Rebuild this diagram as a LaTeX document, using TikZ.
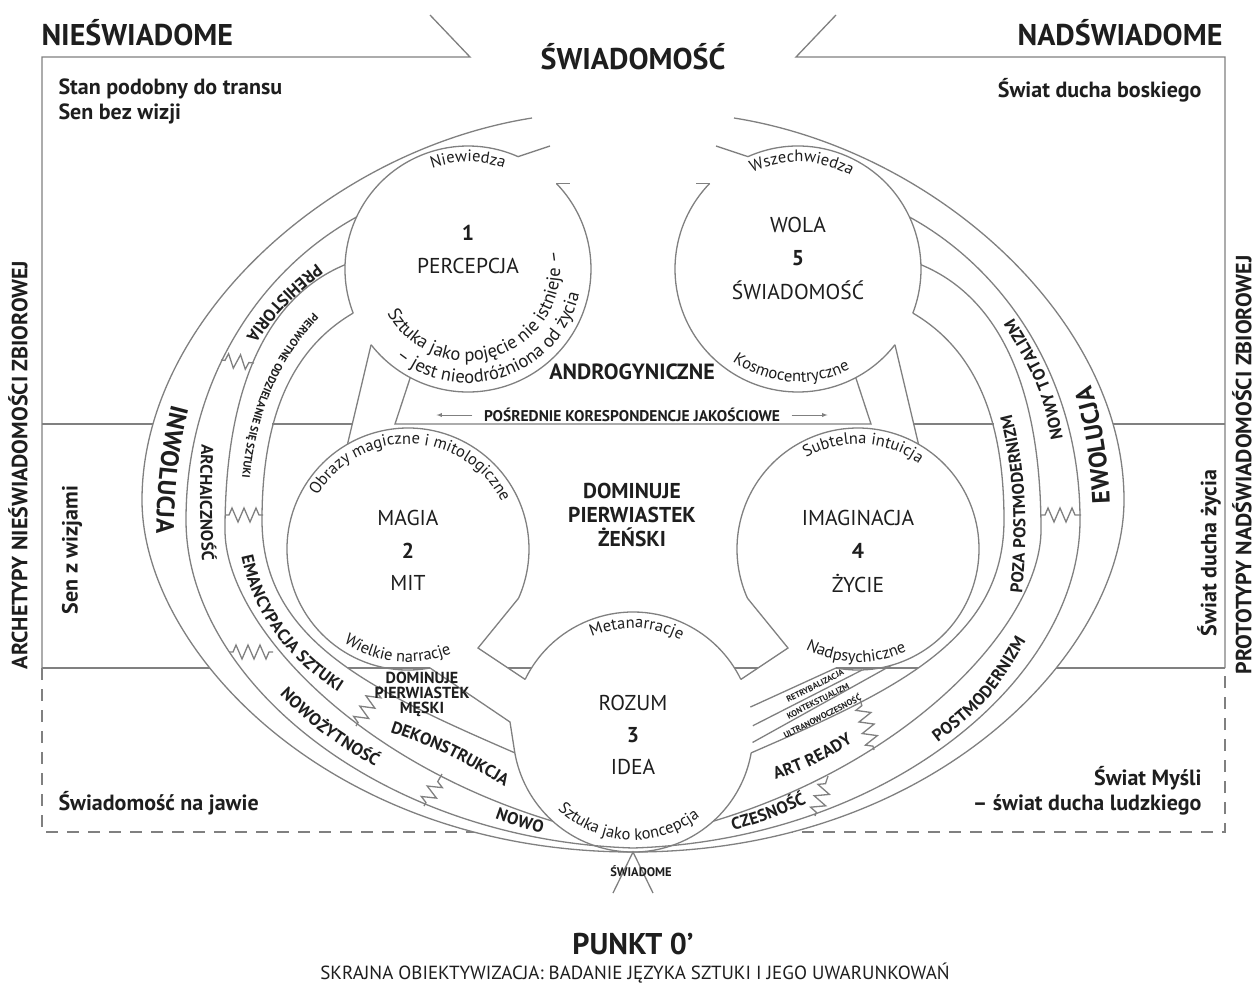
\documentclass[tikz,border=0pt]{standalone}
\usepackage{fontspec}
\setmainfont{PT Sans}
\usetikzlibrary{arrows,calc,decorations.text,decorations.pathmorphing}
\definecolor{linegray}{RGB}{128,128,128}
\definecolor{ink}{RGB}{30,30,30}

\begin{document}
\begin{tikzpicture}[x=1pt,y=-1pt,>=latex,color=ink,
    ln/.style={draw=linegray,line width=1.3pt},
    zz/.style={ln,decorate,decoration={zigzag,segment length=12pt,amplitude=7pt,pre length=4pt,post length=4pt}},
    headlab/.style={font=\bfseries\fontsize{30}{30}\selectfont},
    sidelab/.style={font=\bfseries\fontsize{22}{25}\selectfont},
    circlab/.style={font=\fontsize{21.5}{21.5}\selectfont},
    numlab/.style={font=\bfseries\fontsize{21.5}{21.5}\selectfont},
    tinylab/.style={font=\bfseries\fontsize{8.5}{8.5}\selectfont,rotate=27},
    bandtext/.style={decorate,decoration={text along path,text align=center,raise=-6pt,text color=ink,
      text={|\bfseries\fontsize{17}{17}\selectfont|#1}}},
    bandsmall/.style={decorate,decoration={text along path,text align=center,raise=-3.8pt,text color=ink,
      text={|\bfseries\fontsize{11}{11}\selectfont|#1}}},
    bandbig/.style={decorate,decoration={text along path,text align=center,raise=-8.8pt,text color=ink,
      text={|\bfseries\fontsize{25}{25}\selectfont|#1}}},
    circtext/.style={decorate,decoration={text along path,text align=center,text color=ink,
      text={|\fontsize{16.5}{16.5}\selectfont|#1}}},
    circwide/.style={decorate,decoration={text along path,text align=center,text color=ink,
      text={|\fontsize{18.5}{18.5}\selectfont|#1}}}]
  \useasboundingbox (0,0) rectangle (1255,986);
  \fill[white] (0,0) rectangle (1255,986);

  % frame and level lines
  \draw[ln] (430,15) -- (470,57) -- (42,57) -- (42,668);
  \draw[ln] (836,15) -- (796,57) -- (1225,57) -- (1225,668);
  \draw[ln,dash pattern=on 12pt off 9pt] (42,668) -- (42,832) -- (1225,832) -- (1225,668);
  \draw[ln] (42,424) -- (1225,424);
  \draw[ln] (42,668) -- (1225,668);

  % the egg hides the level lines
  \fill[white] (532,118) .. controls (330,150) and (142,320) .. (142,500)
    .. controls (142,650) and (330,852) .. (633,852)
    .. controls (936,852) and (1124,650) .. (1124,500)
    .. controls (1124,320) and (936,150) .. (734,118) -- cycle;

  \coordinate (c1) at (468,269);
  \coordinate (c5) at (798,269);
  \coordinate (c2) at (408,549);
  \coordinate (c4) at (858,549);
  \coordinate (c3) at (633,732);

  % level lines seen in the gaps
  \draw[ln] (272,424) -- (353,424);
  \draw[ln] (913,424) -- (994,424);
  \draw[ln] (348,668) -- (430,668);
  \draw[ln] (836,668) -- (918,668);
  \draw[ln] (508,668) -- (531,668);
  \draw[ln] (735,668) -- (758,668);

  % bands
  \draw[ln] (532,118) .. controls (330,150) and (142,320) .. (142,500)
    .. controls (142,650) and (330,852) .. (633,852)
    .. controls (936,852) and (1124,650) .. (1124,500)
    .. controls (1124,320) and (936,150) .. (734,118);
  \draw[ln] (c1) ++(205:123) .. controls (260,270) and (186,380) .. (186,520)
    .. controls (186,680) and (380,840) .. (633,848)
    .. controls (886,840) and (1080,680) .. (1080,520)
    .. controls (1080,380) and (1006,270) .. ($(c5)+(-25:123)$);
  \draw[ln] (c1) ++(182:123) .. controls (260,300) and (225,400) .. (225,530)
    .. controls (225,620) and (350,760) .. ($(c3)+(132:120)$);
  \draw[ln] (c5) ++(-2:123) .. controls (1006,300) and (1041,400) .. (1041,530)
    .. controls (1041,620) and (916,760) .. ($(c3)+(48:120)$);
  \draw[ln] (c1) ++(159:123) .. controls (290,350) and (262,420) .. (262,520)
    .. controls (262,640) and (370,690) .. ($(c3)+(170:120)$);
  \draw[ln] (c5) ++(21:123) .. controls (976,350) and (1004,420) .. (1004,520)
    .. controls (1004,640) and (896,690) .. ($(c3)+(10:120)$);

  % circles
  \draw[ln] (c1) ++(-44:123) arc[start angle=-44,end angle=142,radius=123];
  \draw[ln] (c1) ++(159:123) arc[start angle=159,end angle=294,radius=123];
  \draw[ln] (c1) ++(294:123) -- (550,146);
  \draw[ln] (c1) ++(-44:123) -- ++(14,0);
  \draw[ln] (c5) ++(38:123) arc[start angle=38,end angle=224,radius=123];
  \draw[ln] (c5) ++(-114:123) arc[start angle=-114,end angle=21,radius=123];
  \draw[ln] (c5) ++(246:123) -- (716,146);
  \draw[ln] (c5) ++(224:123) -- ++(-14,0);
  \draw[ln] (c2) ++(79.5:121) arc[start angle=79.5,end angle=384,radius=121];
  \draw[ln] (c4) ++(-204:121) arc[start angle=-204,end angle=100.5,radius=121];
  \draw[ln] (c3) ++(206:120) arc[start angle=206,end angle=334,radius=120];
  \draw[ln] (c3) ++(10:120) arc[start angle=10,end angle=170,radius=120];

  % walls between the circles
  \draw[ln] ($(c1)+(118:123)$) -- (395,424) -- (871,424) -- ($(c5)+(62:123)$);
  \draw[ln] ($(c1)+(142:123)$) -- ($(c2)+(240:121)$);
  \draw[ln] ($(c5)+(38:123)$) -- ($(c4)+(-60:121)$);
  \draw[ln] ($(c2)+(79.5:121)$) -- (510,722) -- ($(c3)+(170:120)$);
  \draw[ln] ($(c2)+(24:121)$) -- (478,648) -- ($(c3)+(206:120)$);
  \draw[ln] ($(c4)+(156:121)$) -- (788,648) -- ($(c3)+(334:120)$);
  \draw[ln] ($(c4)+(100.5:121)$) -- ($(c3)+(-12:120)$);
  \draw[ln] ($(c4)+(88:121)$) -- ($(c3)+(-3:120)$);
  \draw[ln] ($(c4)+(74:121)$) -- ($(c3)+(5:120)$);
  \draw[ln] (613,893) -- (633,852) -- (653,893);

  % breaks
  \draw[zz] (221,360) -- (254,363);
  \draw[zz] (225,515) -- (263,515);
  \draw[zz] (229,652) -- (273,652);
  \draw[zz] (356,726) -- (380,686);
  \draw[zz] (424,806) -- (442,774);
  \draw[zz] (1041,515) -- (1081,515);
  \draw[zz] (874,750) -- (860,699);
  \draw[zz] (815,816) -- (828,776);

  % band labels
  \path[bandbig=INWOLUCJA] (192,372) .. controls (168,430) and (164,500) .. (165,570);
  \path[bandtext=PREHISTORIA] (345,252) .. controls (300,280) and (262,315) .. (236,366);
  \path[bandsmall={PIERWOTNE ODDZIELANIE SIĘ SZTUKI}] (340,294) .. controls (275,345) and (246,420) .. (244,510);
  \path[bandtext=ARCHAICZNOŚĆ] (214,385) .. controls (204,450) and (203,530) .. (214,620);
  \path[bandtext={EMANCYPACJA SZTUKI}] (243,525) .. controls (250,610) and (295,665) .. (368,702);
  \path[bandtext=DEKONSTRUKCJA] (372,720) .. controls (444,744) .. (526,792);
  \path[bandtext=NOWOŻYTNOŚĆ] (258,664) .. controls (320,728) .. (410,780);
  \path[bandtext=NOWO] (462,800) .. controls (520,822) .. (580,835);
  \path[bandbig=EWOLUCJA] (1101,545) .. controls (1103,475) and (1095,405) .. (1066,350);
  \path[bandtext={NOWY TOTALIZM}] (1062,470) .. controls (1048,385) .. (992,295);
  \path[bandtext=POSTMODERNIZM] (910,756) .. controls (985,700) .. (1036,612);
  \path[bandtext=CZESNOŚĆ] (708,831) .. controls (768,815) .. (826,787);
  \path[bandtext={POZA POSTMODERNIZM}] (1012,625) .. controls (1026,530) and (1020,450) .. (996,385);
  \path[bandtext={ART READY}] (745,784) .. controls (815,760) .. (875,720);
  \node[tinylab] (retr) at (815,686) {RETRYBALIZACJA};
  \node[tinylab] (kont) at (818,701) {KONTEKSTUALIZM};
  \node[tinylab] (ultr) at (822,716) {ULTRANOWOCZESNOŚĆ};

  % circle texts
  \path[circtext=Niewiedza] (c1) ++(235:107) arc[start angle=235,end angle=305,radius=107];
  \path[circwide={Sztuka jako pojęcie nie istnieje –}] (c1) ++(195:92) arc[start angle=195,end angle=-55,radius=92];
  \path[circwide={– jest nieodróżniona od życia}] (c1) ++(188:114) arc[start angle=188,end angle=-46,radius=114];
  \path[circtext=Wszechwiedza] (c5) ++(232:107) arc[start angle=232,end angle=312,radius=107];
  \path[circtext=Kosmocentryczne] (c5) ++(160:113) arc[start angle=160,end angle=28,radius=113];
  \path[circtext={Obrazy magiczne i mitologiczne}] (c2) ++(190:105) arc[start angle=190,end angle=354,radius=105];
  \path[circtext={Wielkie narracje}] (c2) ++(151:113) arc[start angle=151,end angle=41,radius=113];
  \path[circtext={Subtelna intuicja}] (c4) ++(213:105) arc[start angle=213,end angle=333,radius=105];
  \path[circtext=Nadpsychiczne] (c4) ++(150:113) arc[start angle=150,end angle=32,radius=113];
  \path[circtext=Metanarracje] (c3) ++(222:104) arc[start angle=222,end angle=322,radius=104];
  \path[circtext={Sztuka jako koncepcja}] (c3) ++(172:108) arc[start angle=172,end angle=14,radius=108];

  \node[numlab] (n1) at (468,233) {1};
  \node[circlab] (perc) at (468,266) {PERCEPCJA};
  \node[circlab] (wola) at (798,225) {WOLA};
  \node[numlab] (n5) at (798,258) {5};
  \node[circlab] (swi) at (798,290) {ŚWIADOMOŚĆ};
  \node[circlab] (magia) at (408,518) {MAGIA};
  \node[numlab] (n2) at (408,551) {2};
  \node[circlab] (mit) at (408,583) {MIT};
  \node[circlab] (imag) at (858,518) {IMAGINACJA};
  \node[numlab] (n4) at (858,551) {4};
  \node[circlab] (zycie) at (858,583) {ŻYCIE};
  \node[circlab] (rozum) at (633,703) {ROZUM};
  \node[numlab] (n3) at (633,735) {3};
  \node[circlab] (idea) at (633,767) {IDEA};

  % middle
  \node[font=\bfseries\fontsize{22}{22}\selectfont] (andro) at (632,372) {ANDROGYNICZNE};
  \node[font=\bfseries\fontsize{15.5}{16}\selectfont] (posr) at (632,415) {POŚREDNIE KORESPONDENCJE JAKOŚCIOWE};
  \draw[->,draw=linegray,line width=0.9pt] ([xshift=-8pt]posr.west) -- ++(-36,0);
  \draw[->,draw=linegray,line width=0.9pt] ([xshift=8pt]posr.east) -- ++(36,0);
  \node[font=\bfseries\fontsize{21.5}{24}\selectfont,align=center] (zen) at (632,515) {DOMINUJE\\PIERWIASTEK\\ŻEŃSKI};
  \node[font=\bfseries\fontsize{16}{15}\selectfont,align=center] (mesk) at (422,694) {DOMINUJE\\PIERWIASTEK\\MĘSKI};
  \node[font=\bfseries\fontsize{12.5}{12.5}\selectfont] (swd) at (641,871) {ŚWIADOME};

  % headings and side texts
  \node[headlab,anchor=west] (nies) at (38,33) {NIEŚWIADOME};
  \node[headlab,anchor=east] (nads) at (1226,33) {NADŚWIADOME};
  \node[headlab] (swiad) at (633,57) {ŚWIADOMOŚĆ};
  \node[headlab] (punkt) at (633,944) {PUNKT 0’};
  \node[font=\fontsize{19}{19}\selectfont] (skr) at (635,973) {SKRAJNA OBIEKTYWIZACJA: BADANIE JĘZYKA SZTUKI I JEGO UWARUNKOWAŃ};
  \node[sidelab,rotate=90] (arch) at (18,465) {ARCHETYPY NIEŚWIADOMOŚCI ZBIOROWEJ};
  \node[sidelab,rotate=90] (prot) at (1242,465) {PROTOTYPY NADŚWIADOMOŚCI ZBIOROWEJ};
  \node[sidelab,rotate=90] (senz) at (72,550) {Sen z wizjami};
  \node[sidelab,rotate=90] (swz) at (1209,553) {Świat ducha życia};
  \node[sidelab,anchor=north west,align=left] (stan) at (55,75) {Stan podobny do transu\\Sen bez wizji};
  \node[sidelab,anchor=east] (boski) at (1205,90) {Świat ducha boskiego};
  \node[sidelab,anchor=west] (jawa) at (55,803) {Świadomość na jawie};
  \node[sidelab,anchor=east,align=right] (mysl) at (1205,791) {Świat Myśli\\– świat ducha ludzkiego};
\end{tikzpicture}
\end{document}
